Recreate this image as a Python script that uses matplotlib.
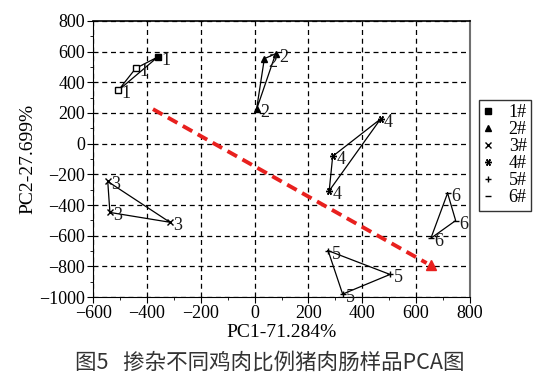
import matplotlib.pyplot as plt
from matplotlib.lines import Line2D

# PCA scores
g1_x = [-360, -442, -507]
g1_y = [565, 491, 347]
g2_x = [78, 36, 7]
g2_y = [586, 554, 223]
g3_x = [-546, -538, -315]
g3_y = [-246, -448, -512]
g4_x = [468, 290, 277]
g4_y = [161, -82, -307]
g5_x = [273, 503, 327]
g5_y = [-697, -852, -980]
g6_x = [717, 747, 655]
g6_y = [-322, -501, -616]
arrow_start = (-378, 225)
arrow_end = (654, -790)
group_labels = ['1', '2', '3', '4', '5', '6']
legend_labels = ['1#', '2#', '3#', '4#', '5#', '6#']

serif = 'Liberation Serif'
plt.rcParams['font.family'] = serif

fig = plt.figure(figsize=(5.42, 3.80), dpi=100)
ax = fig.add_axes([0.172, 0.218, 0.695, 0.727])

groups = [(g1_x, g1_y), (g2_x, g2_y), (g3_x, g3_y),
          (g4_x, g4_y), (g5_x, g5_y), (g6_x, g6_y)]
markers = ['s', '^', 'x', (6, 2, 90), '+', '_']
sizes = [5, 5, 4.5, 5, 5, 5]

for i, (xs, ys) in enumerate(groups):
    ax.plot(xs + [xs[0]], ys + [ys[0]], color='black', lw=0.9, zorder=3)
    for j, (x, y) in enumerate(zip(xs, ys)):
        face = 'black'
        if i == 0 and j > 0:
            face = 'white'
        ax.plot(x, y, marker=markers[i], ms=sizes[i], color='black',
                mfc=face, mec='black', mew=1.0, ls='none', zorder=4)
        ax.annotate(group_labels[i], (x, y), xytext=(2.5, -2.5),
                    textcoords='offset points', fontsize=13,
                    color='#1a1a1a', va='center', ha='left', zorder=5)

# red dashed arrow
ax.plot([arrow_start[0], arrow_end[0] - 15], [arrow_start[1], arrow_end[1] + 12],
        color='#e8201e', lw=2.8, ls=(0, (2.8, 1.6)), zorder=2)
ax.plot(arrow_end[0], arrow_end[1], marker='^', ms=7, color='#e8201e',
        ls='none', zorder=2)

ax.set_xlim(-600, 800)
ax.set_ylim(-1000, 800)
ax.set_xticks(range(-600, 801, 200))
ax.set_yticks(range(-1000, 801, 200))
ax.set_xticks(range(-600, 801, 100), minor=True)
ax.set_yticks(range(-1000, 801, 100), minor=True)
ax.grid(True, which='major', color='black', ls=(0, (4, 3)), lw=0.9)
ax.tick_params(which='both', direction='out', labelsize=13)
ax.tick_params(which='major', length=4, pad=2)
ax.tick_params(which='minor', length=2.5)
ax.spines['right'].set_color('#707070')
ax.spines['right'].set_linewidth(1.5)
ax.spines['top'].set_linewidth(1.2)

ax.set_xlabel('PC1-71.284%', fontsize=14, labelpad=1)
ax.set_ylabel('PC2-27.699%', fontsize=14, labelpad=2)

handles = [Line2D([], [], marker=m, color='black', ls='none', ms=5, mew=1.0)
           for m in markers]
leg = ax.legend(handles, legend_labels, loc='upper left',
                bbox_to_anchor=(1.024, 0.714), fontsize=13, frameon=True,
                fancybox=False, edgecolor='black', handlelength=0.5,
                handletextpad=0.9, labelspacing=0.0, borderpad=0.25,
                borderaxespad=0)
leg.get_frame().set_linewidth(1.0)

fig.text(0.497, 0.045, '图5   掺杂不同鸡肉比例猪肉肠样品PCA图', ha='center',
         va='center', fontsize=15.5, color='#333333',
         family=['Noto Sans CJK SC', 'DejaVu Sans'])

fig.savefig('out.png', dpi=100)
